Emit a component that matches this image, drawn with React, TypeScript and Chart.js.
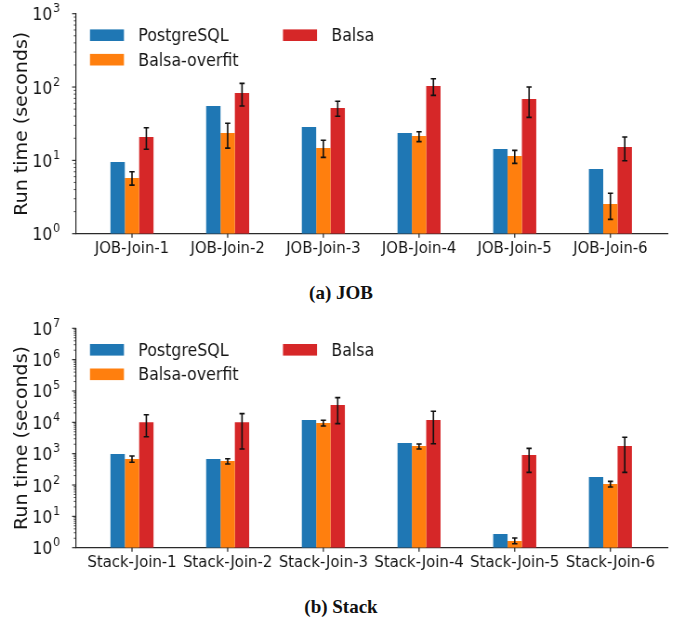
import React, { useEffect, useRef } from "react";
import { Chart, registerables } from "chart.js";
Chart.register(...registerables);

// ---------- data ----------
const SERIES = ["PostgreSQL", "Balsa-overfit", "Balsa"];
const COLORS = ["#1f77b4", "#ff7f0e", "#d62728"];

const jobCategories = ["JOB-Join-1", "JOB-Join-2", "JOB-Join-3", "JOB-Join-4", "JOB-Join-5", "JOB-Join-6"];
const jobPostgres = [9.5, 55, 28.5, 23.6, 14.3, 7.6];
const jobOverfit = [5.75, 23.6, 14.7, 21.5, 11.5, 2.54];
const jobOverfitLow = [4.6, 14.7, 11.0, 18.0, 9.1, 1.57];
const jobOverfitHigh = [7.0, 32, 18.8, 24.6, 13.7, 3.56];
const jobBalsa = [20.8, 83, 51.8, 103, 68.7, 15.2];
const jobBalsaLow = [14.2, 55, 40, 77, 38.6, 9.9];
const jobBalsaHigh = [27.9, 112, 64, 130, 100, 20.8];
const jobYMax = 1000;

const stackCategories = ["Stack-Join-1", "Stack-Join-2", "Stack-Join-3", "Stack-Join-4", "Stack-Join-5", "Stack-Join-6"];
const stackPostgres = [975, 676, 11900, 2190, 2.74, 180];
const stackOverfit = [676, 584, 9530, 1760, 1.64, 108];
const stackOverfitLow = [531, 469, 7640, 1410, 1.34, 86.5];
const stackOverfitHigh = [843, 692, 11600, 2040, 2.04, 131];
const stackBalsa = [10000, 10000, 35700, 11900, 908, 1760];
const stackBalsaLow = [3480, 1410, 9060, 2080, 254, 254];
const stackBalsaHigh = [17500, 18900, 61200, 22500, 1480, 3340];
const stackYMax = 10000000;

const captions = ["(a) JOB", "(b) Stack"];

// ---------- layout ----------
const S = 685 / 737;
const CW = 737;
const CH = 280;
const AXIS_LEFT = 76 / S;
const PAD_RIGHT = CW - 668 / S;
const X_MIN = -0.585;
const X_MAX = 5.602;
const TEXT = "#151515";
const FONT = "'DejaVu Sans', sans-serif";
const LEGEND_SLOTS = [
  [0, 0],
  [0, 1],
  [1, 0],
];

const decor = {
  id: "decor",
  afterDatasetsDraw(chart: any) {
    const ctx = chart.ctx;
    const ys = chart.scales.y;
    ctx.save();
    ctx.strokeStyle = "#111";
    ctx.lineWidth = 1.6;
    chart.data.datasets.forEach((ds: any, di: number) => {
      if (!ds.errLow) return;
      const meta = chart.getDatasetMeta(di);
      meta.data.forEach((bar: any, i: number) => {
        const x = bar.x;
        const yl = ys.getPixelForValue(ds.errLow[i]);
        const yh = ys.getPixelForValue(ds.errHigh[i]);
        ctx.beginPath();
        ctx.moveTo(x, yl);
        ctx.lineTo(x, yh);
        ctx.moveTo(x - 2.8, yl);
        ctx.lineTo(x + 2.8, yl);
        ctx.moveTo(x - 2.8, yh);
        ctx.lineTo(x + 2.8, yh);
        ctx.stroke();
      });
    });
    ctx.restore();
  },
  afterDraw(chart: any) {
    const ctx = chart.ctx;
    const ys = chart.scales.y;
    const xs = chart.scales.x;
    const area = chart.chartArea;
    ctx.save();
    ctx.strokeStyle = "#222";
    // y ticks
    const maxExp = Math.round(Math.log10(ys.max));
    for (let n = 0; n <= maxExp; n++) {
      for (let m = 1; m <= 9; m++) {
        const v = m * Math.pow(10, n);
        if (v > ys.max * 1.0001) break;
        const py = ys.getPixelForValue(v);
        const major = m === 1;
        ctx.lineWidth = major ? 1.1 : 0.8;
        ctx.beginPath();
        ctx.moveTo(area.left, py);
        ctx.lineTo(area.left - (major ? 4.2 : 2.4), py);
        ctx.stroke();
      }
    }
    // x ticks
    ctx.lineWidth = 1.2;
    for (let i = 0; i < chart.data.datasets[0].data.length; i++) {
      const px = xs.getPixelForValue(i);
      ctx.beginPath();
      ctx.moveTo(px, area.bottom);
      ctx.lineTo(px, area.bottom + 4);
      ctx.stroke();
    }
    // y labels 10^n
    ctx.fillStyle = TEXT;
    ctx.textBaseline = "alphabetic";
    const rightEdge = 60 / S;
    for (let n = 0; n <= maxExp; n++) {
      const py = ys.getPixelForValue(Math.pow(10, n));
      ctx.font = `12px ${FONT}`;
      const ew = ctx.measureText(String(n)).width;
      ctx.textAlign = "right";
      ctx.fillText(String(n), rightEdge, py - 1.5);
      ctx.font = `17px ${FONT}`;
      ctx.fillText("10", rightEdge - ew - 0.5, py + 6.5);
    }
    // y title
    ctx.save();
    ctx.translate(22 / S, (area.top + area.bottom) / 2);
    ctx.rotate(-Math.PI / 2);
    ctx.textAlign = "center";
    ctx.textBaseline = "middle";
    ctx.font = `19px ${FONT}`;
    ctx.fillText("Run time (seconds)", 0, 0);
    ctx.restore();
    // legend
    ctx.font = `17px ${FONT}`;
    ctx.textAlign = "left";
    ctx.textBaseline = "alphabetic";
    chart.data.datasets.forEach((ds: any, di: number) => {
      const [col, row] = LEGEND_SLOTS[di];
      const sx = area.left + (col === 0 ? 15 : 222.7);
      const cy = area.top + 21.5 + row * 24.5;
      ctx.fillStyle = ds.backgroundColor;
      ctx.fillRect(sx, cy - 5.8, 36.6, 11.6);
      ctx.fillStyle = TEXT;
      ctx.fillText(ds.label, sx + 52, cy + 6);
    });
    ctx.restore();
  },
};

type PanelProps = {
  top: number;
  areaTop: number;
  areaBottom: number;
  categories: string[];
  pg: number[];
  of: number[];
  ofLo: number[];
  ofHi: number[];
  ba: number[];
  baLo: number[];
  baHi: number[];
  yMax: number;
};

function Panel(p: PanelProps) {
  const ref = useRef<HTMLCanvasElement>(null);
  useEffect(() => {
    const toXY = (arr: number[]) => arr.map((v, i) => ({ x: i, y: v }));
    const chart = new Chart(ref.current!, {
      type: "bar",
      data: {
        datasets: [
          { label: SERIES[0], data: toXY(p.pg), backgroundColor: COLORS[0] },
          { label: SERIES[1], data: toXY(p.of), backgroundColor: COLORS[1], errLow: p.ofLo, errHigh: p.ofHi } as any,
          { label: SERIES[2], data: toXY(p.ba), backgroundColor: COLORS[2], errLow: p.baLo, errHigh: p.baHi } as any,
        ],
      },
      options: {
        animation: false,
        responsive: true,
        maintainAspectRatio: false,
        events: [],
        layout: { padding: { top: p.areaTop, right: PAD_RIGHT, left: 0, bottom: 0 } },
        datasets: { bar: { barPercentage: 1, categoryPercentage: 0.45, borderWidth: 0 } },
        plugins: { legend: { display: false }, tooltip: { enabled: false } },
        scales: {
          x: {
            type: "linear",
            offset: false,
            min: X_MIN,
            max: X_MAX,
            grid: { display: false, drawTicks: false, offset: false },
            border: { display: true, color: "#2a2a2a", width: 1.2 },
            afterBuildTicks: (s: any) => {
              s.ticks = p.categories.map((_, i) => ({ value: i }));
            },
            afterFit: (s: any) => {
              s.height = CH - p.areaBottom;
            },
            ticks: {
              autoSkip: false,
              maxRotation: 0,
              padding: 6,
              color: TEXT,
              font: { family: FONT, size: 16 },
              callback: (v: any) => p.categories[Math.round(Number(v))] ?? "",
            },
          },
          y: {
            type: "logarithmic",
            min: 1,
            max: p.yMax,
            grid: { display: false, drawTicks: false },
            border: { display: true, color: "#2a2a2a", width: 1.2 },
            ticks: { display: false },
            afterFit: (s: any) => {
              s.width = AXIS_LEFT;
            },
          },
        },
      },
      plugins: [decor],
    } as any);
    return () => chart.destroy();
  }, []);
  return (
    <div
      style={{
        position: "absolute",
        left: 0,
        top: p.top,
        width: CW,
        height: CH,
        transform: `scaleX(${S})`,
        transformOrigin: "0 0",
      }}
    >
      <canvas ref={ref} />
    </div>
  );
}

const captionStyle = (top: number): React.CSSProperties => ({
  position: "absolute",
  left: 0,
  top,
  width: 682,
  textAlign: "center",
  fontFamily: "'Liberation Serif', serif",
  fontWeight: "bold",
  fontSize: 19,
  lineHeight: "22px",
  color: "#111",
});

export default function App() {
  return (
    <div style={{ position: "absolute", left: 0, top: 0, width: 685, height: 622, background: "#fff", overflow: "hidden" }}>
      <Panel
        top={0}
        areaTop={13.7}
        areaBottom={233.7}
        categories={jobCategories}
        pg={jobPostgres}
        of={jobOverfit}
        ofLo={jobOverfitLow}
        ofHi={jobOverfitHigh}
        ba={jobBalsa}
        baLo={jobBalsaLow}
        baHi={jobBalsaHigh}
        yMax={jobYMax}
      />
      <div style={captionStyle(282)}>{captions[0]}</div>
      <Panel
        top={300}
        areaTop={28.3}
        areaBottom={247.7}
        categories={stackCategories}
        pg={stackPostgres}
        of={stackOverfit}
        ofLo={stackOverfitLow}
        ofHi={stackOverfitHigh}
        ba={stackBalsa}
        baLo={stackBalsaLow}
        baHi={stackBalsaHigh}
        yMax={stackYMax}
      />
      <div style={captionStyle(596)}>{captions[1]}</div>
    </div>
  );
}
